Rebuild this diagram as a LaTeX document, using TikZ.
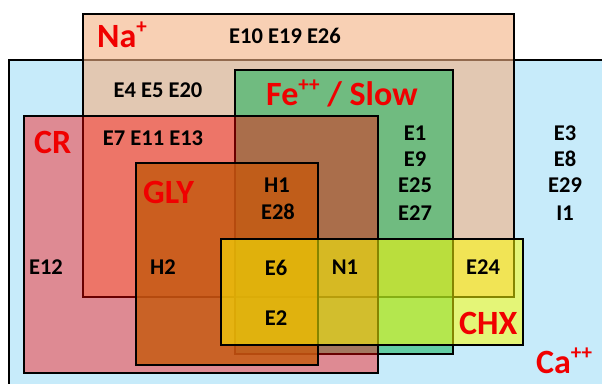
\documentclass[tikz,border=0pt]{standalone}
\usepackage{fontspec}
\setmainfont{Carlito}
\definecolor{caion}{RGB}{199,235,250}
\definecolor{naion}{RGB}{244,177,131}
\definecolor{feion}{RGB}{0,176,80}
\definecolor{crset}{RGB}{255,0,0}
\definecolor{glyset}{RGB}{197,90,17}
\definecolor{chxset}{RGB}{255,255,0}
\definecolor{tagred}{RGB}{240,0,0}
\tikzset{
  setbox/.style={draw=black, line width=2.6pt},
  member/.style={inner sep=0pt, font=\fontsize{22.5}{22.5}\selectfont\bfseries, text=black},
  settag/.style={inner sep=0pt, anchor=base west, font=\fontsize{34}{34}\selectfont\bfseries, text=tagred},
}
\newcommand{\chg}[1]{\raisebox{0.4em}{\fontsize{21}{21}\selectfont #1}}
\begin{document}
\begin{tikzpicture}[x=1pt,y=-1pt]
\useasboundingbox (0,0) rectangle (602,383);
\clip (0,0) rectangle (602,383);
\fill[white] (0,0) rectangle (602,383);

% sets, from the bottom layer up
\path[setbox, fill=caion] (9,60) rectangle (640,420);
\path[setbox, fill=naion, fill opacity=0.6] (83,14) rectangle (514,297);
\path[setbox, fill=feion, fill opacity=0.5] (235,70) rectangle (453,354);
\path[setbox, fill=crset, fill opacity=0.41] (24,116) rectangle (378,373);
\path[setbox, fill=glyset, fill opacity=0.83] (136,163) rectangle (318,365);
\path[setbox, fill=chxset, fill opacity=0.52] (221,239) rectangle (523,345);

% set names
\node[settag] (na) at (97,47) {Na\chg{+}};
\node[settag] (fe) at (266,105) {Fe\chg{++} / Slow};
\node[settag] (cr) at (34,153) {CR};
\node[settag] (gly) at (143,203) {GLY};
\node[settag] (chx) at (459,334) {CHX};
\node[settag] (ca) at (536,373) {Ca\chg{++}};

% members
\node[member] (m1) at (285,36) {E10 E19 E26};
\node[member] (m2) at (158,90) {E4 E5 E20};
\node[member] (m3) at (153,138) {E7 E11 E13};
\node[member] (h1) at (277,185) {H1};
\node[member] (e28) at (278,212) {E28};
\node[member] (e1) at (415,133) {E1};
\node[member] (e9) at (415,159) {E9};
\node[member] (e25) at (415,185) {E25};
\node[member] (e27) at (415,213) {E27};
\node[member] (e3) at (565,133) {E3};
\node[member] (e8) at (565,159) {E8};
\node[member] (e29) at (565,185) {E29};
\node[member] (i1) at (565,213) {I1};
\node[member] (e12) at (46,267) {E12};
\node[member] (h2) at (163,267) {H2};
\node[member] (e6) at (276,268) {E6};
\node[member] (e2) at (276,318) {E2};
\node[member] (n1) at (345,267) {N1};
\node[member] (e24) at (483,267) {E24};
\end{tikzpicture}
\end{document}
